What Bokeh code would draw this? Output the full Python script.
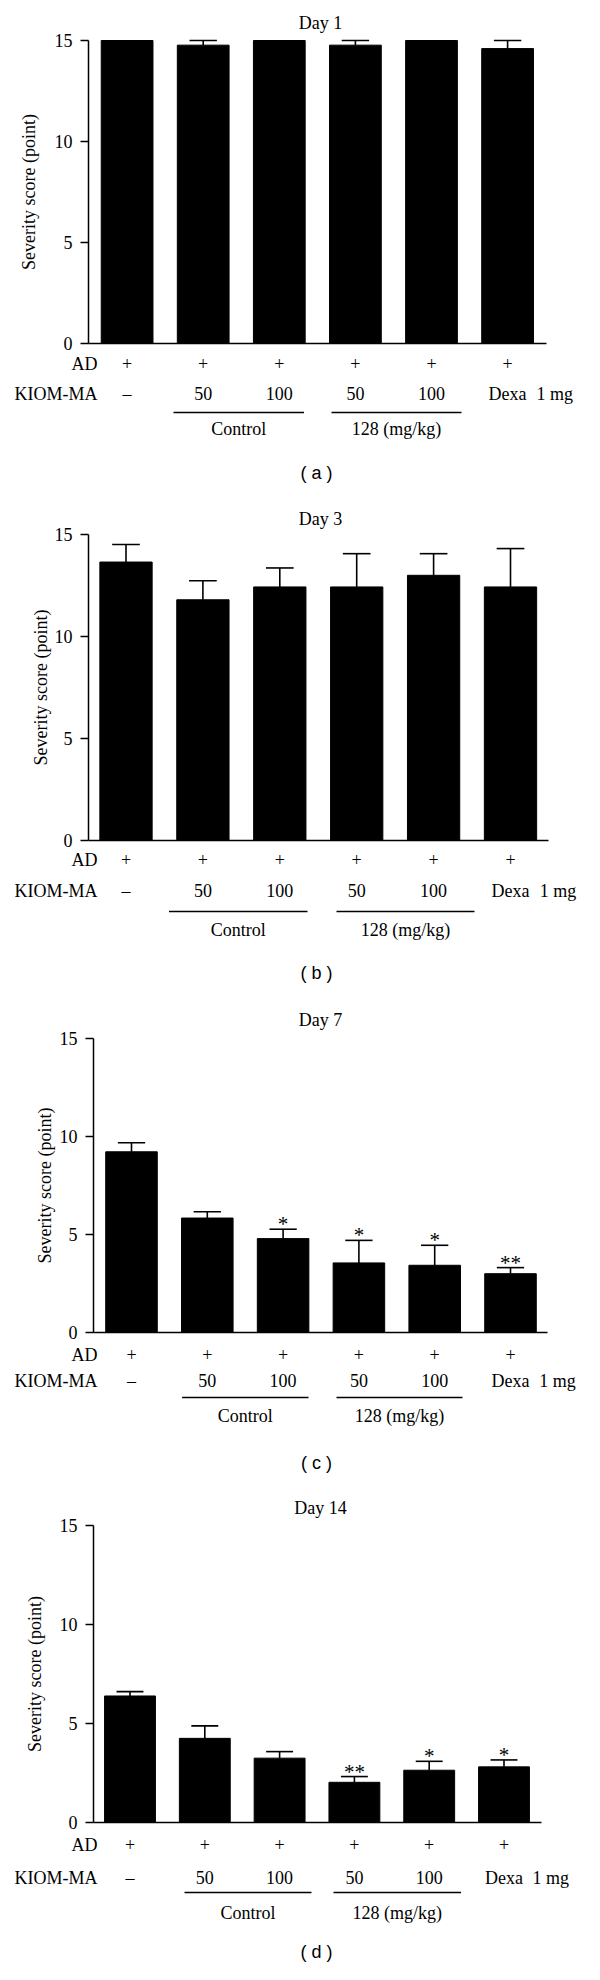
import numpy as np
from bokeh.plotting import figure
from bokeh.models import Range1d, LinearAxis, FixedTicker
from bokeh.layouts import column
from bokeh.embed import file_html
from bokeh.resources import INLINE
from bokeh.core.properties import value

# ---------------- data ----------------
groups = ["AD", "Control 50", "Control 100", "KIOM-MA 50", "KIOM-MA 100", "Dexa 1 mg"]
ad_row = ["+", "+", "+", "+", "+", "+"]
kiom_row = ["\u2013", "50", "100", "50", "100", "Dexa"]
group_names = ["Control", "128 (mg/kg)"]
y_ticks = [0, 5, 10, 15]
y_title = "Severity score (point)"

day1_mean = [15.0, 14.77, 15.0, 14.77, 15.0, 14.6]
day1_err = [0.0, 0.23, 0.0, 0.23, 0.0, 0.40]
day1_sig = ["", "", "", "", "", ""]

day3_mean = [13.65, 11.80, 12.43, 12.43, 13.00, 12.43]
day3_err = [0.86, 0.93, 0.93, 1.63, 1.06, 1.88]
day3_sig = ["", "", "", "", "", ""]

day7_mean = [9.22, 5.84, 4.79, 3.55, 3.43, 3.00]
day7_err = [0.46, 0.32, 0.48, 1.15, 1.02, 0.31]
day7_sig = ["", "", "*", "*", "*", "**"]

day14_mean = [6.39, 4.25, 3.25, 2.03, 2.64, 2.81]
day14_err = [0.22, 0.63, 0.33, 0.29, 0.45, 0.35]
day14_sig = ["", "", "", "**", "*", "*"]

# ---------------- layout (page pixel positions) ----------------
SERIF = "Liberation Serif"
SANS = "Liberation Sans"
FS = "18px"

panels = [
    dict(title="Day 1", tag="( a )", mean=day1_mean, err=day1_err, sig=day1_sig,
         c0=134.6, sp=76.1, yaxis=96, xend=554, top15=48, zero=351, ftop=8, fbot=500,
         ty=30, ad=371, kiom=401, line=420, grp=436, tagy=480, labx=36,
         ctrl=(181, 311.5), hi=(339, 469)),
    dict(title="Day 3", tag="( b )", mean=day3_mean, err=day3_err, sig=day3_sig,
         c0=133.5, sp=76.9, yaxis=96, xend=556, top15=542, zero=848, ftop=500, fbot=1000,
         ty=526, ad=867, kiom=898, line=919, grp=937, tagy=980, labx=48,
         ctrl=(176.5, 315), hi=(344, 482)),
    dict(title="Day 7", tag="( c )", mean=day7_mean, err=day7_err, sig=day7_sig,
         c0=139, sp=75.8, yaxis=101, xend=555, top15=1046, zero=1340, ftop=1000, fbot=1490,
         ty=1027, ad=1362, kiom=1388, line=1405, grp=1423, tagy=1470, labx=52,
         ctrl=(189.6, 316), hi=(344, 470)),
    dict(title="Day 14", tag="( d )", mean=day14_mean, err=day14_err, sig=day14_sig,
         c0=137.5, sp=74.8, yaxis=101, xend=549, top15=1533, zero=1830, ftop=1490, fbot=1972,
         ty=1515, ad=1852, kiom=1885, line=1900, grp=1920, tagy=1959, labx=42,
         ctrl=(192, 319), hi=(341, 468.5)),
]


def make_panel(P):
    c0, sp = P["c0"], P["sp"]
    ppu = (P["zero"] - P["top15"]) / 15.0

    def dx(px):
        return (px - c0) / sp

    def dy(py):
        return (P["zero"] - py) / ppu

    h = P["fbot"] - P["ftop"]
    p = figure(width=584, height=h, output_backend="svg", toolbar_location=None,
               x_axis_type=None, y_axis_type=None,
               x_range=Range1d(dx(8), dx(592)),
               y_range=Range1d(dy(P["fbot"]), dy(P["ftop"])),
               min_border=0, min_border_left=0, min_border_right=0,
               min_border_top=0, min_border_bottom=0)
    p.outline_line_color = None
    p.grid.visible = False
    p.background_fill_color = "white"
    p.border_fill_color = "white"

    xs = np.arange(len(groups), dtype=float)
    mean = np.array(P["mean"], dtype=float)
    err = np.array(P["err"], dtype=float)

    # bars
    p.vbar(x=xs, top=mean, bottom=0, width=0.68, fill_color="black", line_color="black",
           line_width=1)

    # upper error bars
    m = err > 0
    tops = mean + err
    p.segment(x0=xs[m], y0=mean[m], x1=xs[m], y1=tops[m], line_color="black", line_width=1.6)
    p.segment(x0=xs[m] - 0.18, y0=tops[m], x1=xs[m] + 0.18, y1=tops[m],
              line_color="black", line_width=1.6)

    # significance marks
    sig = P["sig"]
    sx = [xs[i] for i in range(len(sig)) if sig[i]]
    sy = [tops[i] for i in range(len(sig)) if sig[i]]
    st = [sig[i] for i in range(len(sig)) if sig[i]]
    if st:
        p.text(x=sx, y=sy, text=st, text_align="center", text_baseline="alphabetic",
               y_offset=-5, text_font=value(SERIF), text_font_size="21px", text_color="black")

    # y axis
    yax = LinearAxis(fixed_location=dx(P["yaxis"]), bounds=(0, 15),
                     ticker=FixedTicker(ticks=y_ticks))
    yax.axis_line_width = 1.5
    yax.major_tick_line_width = 1.5
    yax.major_tick_out = 8
    yax.major_tick_in = 0
    yax.minor_tick_line_color = None
    yax.major_label_standoff = 8
    yax.major_label_text_font = SERIF
    yax.major_label_text_font_size = FS
    yax.major_label_text_color = "black"
    p.add_layout(yax, "left")

    # x baseline
    xax = LinearAxis(fixed_location=0, bounds=(dx(P["yaxis"]), dx(P["xend"])),
                     ticker=FixedTicker(ticks=[]))
    xax.axis_line_width = 1.5
    xax.major_tick_line_color = None
    xax.minor_tick_line_color = None
    xax.major_label_text_font_size = "0px"
    p.add_layout(xax, "below")

    common = dict(text_font=value(SERIF), text_font_size=FS, text_color="black",
                  text_baseline="middle")
    # y-axis title (rotated)
    p.text(x=[dx(P["labx"])], y=[7.5], text=[y_title], angle=np.pi / 2,
           text_align="center", **common)
    # panel title
    p.text(x=[dx(328)], y=[dy(P["ty"])], text=[P["title"]], text_align="center", **common)
    # row headers
    p.text(x=[dx(105)] * 2, y=[dy(P["ad"]), dy(P["kiom"])], text=["AD", "KIOM-MA"],
           text_align="right", **common)
    # AD row
    p.text(x=xs, y=[dy(P["ad"])] * len(xs), text=ad_row, text_align="center", **common)
    # KIOM-MA row
    p.text(x=xs, y=[dy(P["kiom"])] * len(xs), text=kiom_row, text_align="center", **common)
    p.text(x=[xs[-1] + 0.38], y=[dy(P["kiom"])], text=["1 mg"], text_align="left", **common)

    # group underlines and names
    spans = [P["ctrl"], P["hi"]]
    p.segment(x0=[dx(a) for a, b in spans], y0=[dy(P["line"])] * 2,
              x1=[dx(b) for a, b in spans], y1=[dy(P["line"])] * 2,
              line_color="black", line_width=1.5)
    p.text(x=[dx((a + b) / 2) for a, b in spans], y=[dy(P["grp"])] * 2, text=group_names,
           text_align="center", **common)

    # panel tag
    p.text(x=[dx(324)], y=[dy(P["tagy"])], text=[P["tag"]], text_align="center",
           text_baseline="middle", text_font=value(SANS), text_font_size="18px",
           text_color="black")
    return p


figs = [make_panel(P) for P in panels]
layout = column(*figs, spacing=0)
open("out.html", "w").write(file_html(layout, INLINE))
